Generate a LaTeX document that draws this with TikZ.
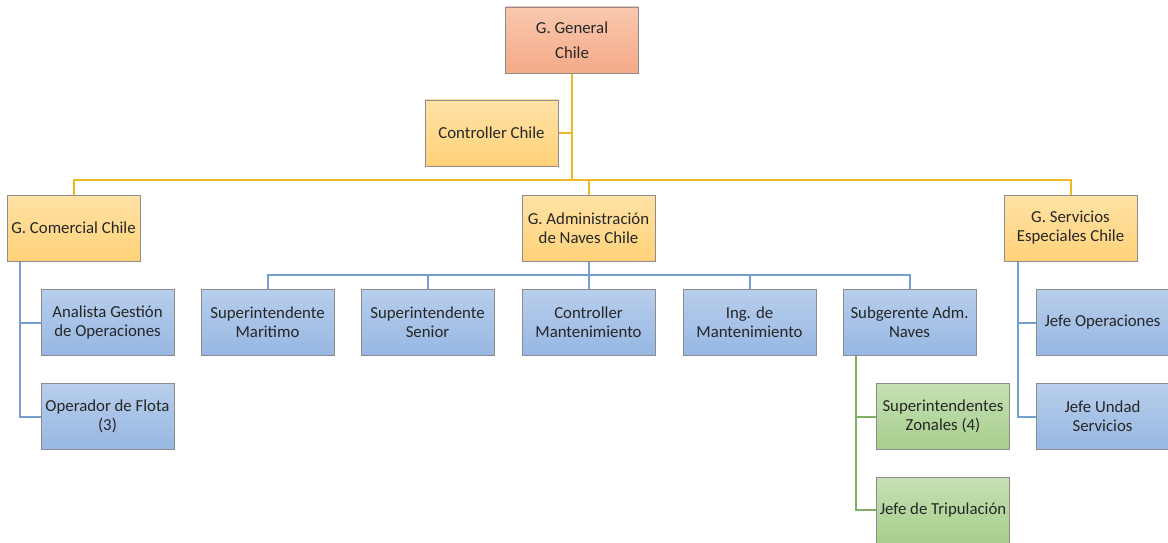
\documentclass[tikz,border=0pt]{standalone}
\usepackage{fontspec}
\setmainfont{Carlito}
\usetikzlibrary{backgrounds}
\definecolor{redtop}{RGB}{249,200,175}
\definecolor{redbot}{RGB}{244,170,135}
\definecolor{ylwtop}{RGB}{255,226,166}
\definecolor{ylwbot}{RGB}{255,210,120}
\definecolor{blutop}{RGB}{184,206,236}
\definecolor{blubot}{RGB}{150,183,226}
\definecolor{grntop}{RGB}{198,224,180}
\definecolor{grnbot}{RGB}{166,206,140}
\definecolor{ylwln}{RGB}{236,186,40}
\definecolor{bluln}{RGB}{116,158,206}
\definecolor{grnln}{RGB}{128,174,96}
\begin{document}
\begin{tikzpicture}[x=1pt,y=-1pt,
  box/.style={draw=black!45, line width=0.9pt, minimum width=133pt, minimum height=66pt,
    align=center, inner sep=2pt, font=\fontsize{16.8}{19}\selectfont, text=black!85},
  redbox/.style={box, top color=redtop, bottom color=redbot, font=\fontsize{16.8}{25}\selectfont},
  ylwbox/.style={box, top color=ylwtop, bottom color=ylwbot},
  bluebox/.style={box, top color=blutop, bottom color=blubot},
  grnbox/.style={box, top color=grntop, bottom color=grnbot},
  ylwline/.style={draw=ylwln, line width=2pt},
  bluline/.style={draw=bluln, line width=2pt},
  grnline/.style={draw=grnln, line width=2pt}]
\useasboundingbox (0,0) rectangle (1168,543);

% top management
\node[redbox]  (gg)   at (572,40)     {G. General\\Chile};
\node[ylwbox]  (ctrl) at (491.5,133)  {Controller Chile};
\node[ylwbox]  (gc)   at (73.5,228)   {G. Comercial Chile};
\node[ylwbox]  (ga)   at (588.5,228)  {G. Administración\\de Naves Chile};
\node[ylwbox]  (gs)   at (1070.5,228) {G. Servicios\\Especiales Chile};

% naves administration row
\node[bluebox] (sm)  at (267.5,322.5) {Superintendente\\Maritimo};
\node[bluebox] (ss)  at (427.5,322.5) {Superintendente\\Senior};
\node[bluebox] (cm)  at (588.5,322.5) {Controller\\Mantenimiento};
\node[bluebox] (im)  at (749.5,322.5) {Ing. de\\Mantenimiento};
\node[bluebox] (sa)  at (909.5,322.5) {Subgerente Adm.\\Naves};

% commercial branch
\node[bluebox] (an)  at (107.5,322.5) {Analista Gestión\\de Operaciones};
\node[bluebox] (of)  at (107.5,416.5) {Operador de Flota\\(3)};

% under the sub-manager
\node[grnbox]  (sz)  at (943,416.5) {Superintendentes\\Zonales (4)};
\node[grnbox]  (jt)  at (943,510)   {Jefe de Tripulación};

% special services branch
\node[bluebox] (jo)  at (1102.5,322.5) {Jefe Operaciones};
\node[bluebox] (ju)  at (1102.5,416.5) {Jefe Undad\\Servicios};

\begin{scope}[on background layer]
  \coordinate (hub) at (572,180);
  \coordinate (adm) at (588.5,275);
  \coordinate (com) at (20,261);
  \coordinate (sub) at (856,355);
  \coordinate (srv) at (1018,261);

  \path[ylwline] (gg.south) -- (hub);
  \path[ylwline] (ctrl.east) -- (ctrl.east -| hub);
  \path[ylwline] (gc.north) |- (hub) -| (gs.north);
  \path[ylwline] (hub) -| (ga.north);

  \path[bluline] (ga.south) -- (cm.north);
  \path[bluline] (sm.north) |- (adm) -| (sa.north);
  \path[bluline] (ss.north) |- (adm);
  \path[bluline] (im.north) |- (adm);

  \path[bluline] (com) |- (of.west);
  \path[bluline] (an.west) -- (an.west -| com);

  \path[grnline] (sub) |- (jt.west);
  \path[grnline] (sz.west) -- (sz.west -| sub);

  \path[bluline] (srv) |- (ju.west);
  \path[bluline] (jo.west) -- (jo.west -| srv);
\end{scope}
\end{tikzpicture}
\end{document}
